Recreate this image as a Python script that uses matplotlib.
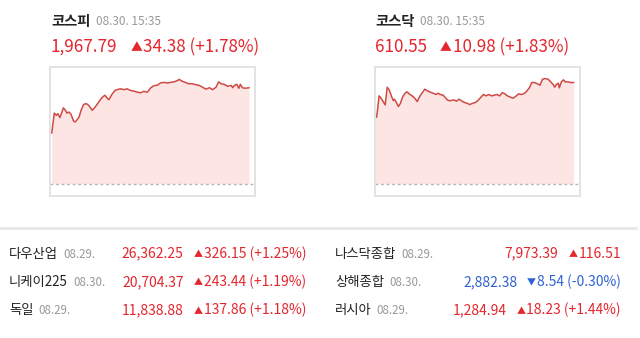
import matplotlib
matplotlib.use("Agg")
import matplotlib.pyplot as plt

plt.rcParams['font.family'] = ['Noto Sans CJK KR', 'DejaVu Sans']

# intraday index data (minutes since 09:00)
kospi_min = [0, 5, 9, 12, 16, 19, 23, 27, 30, 34, 38, 43, 46, 50, 54, 58, 63, 68, 73, 80,
             86, 93, 99, 105, 109, 113, 119, 125, 129, 136, 143, 149, 156, 162, 169, 176, 182, 189, 196, 202,
             209, 215, 222, 229, 235, 242, 249, 252, 257, 264, 271, 277, 285, 292, 298, 305, 312, 318, 325, 330,
             335, 341, 348, 355, 358, 361, 366, 370, 373, 377, 383, 390]
kospi_val = [1951.6, 1958.7, 1957.9, 1958.5, 1957.1, 1958.5, 1960.6, 1959.7, 1958.7, 1959.1,
             1958.3, 1955.9, 1955.5, 1956.3, 1957.3, 1959.7, 1961.8, 1962.1, 1961.5, 1959.7,
             1960.9, 1962.7, 1964.2, 1965.1, 1964.2, 1963.5, 1965.4, 1966.8, 1967.1, 1967.4,
             1967.1, 1967.4, 1966.8, 1966.6, 1966.2, 1966.0, 1966.5, 1966.2, 1967.8, 1968.5,
             1968.7, 1969.5, 1969.7, 1969.5, 1969.7, 1969.9, 1970.4, 1970.8, 1970.2, 1969.7,
             1969.2, 1969.2, 1968.9, 1968.6, 1968.0, 1967.3, 1967.8, 1967.1, 1968.0, 1969.9,
             1969.2, 1969.0, 1968.3, 1968.6, 1967.8, 1968.6, 1969.0, 1967.6, 1969.0, 1967.8,
             1967.6, 1967.79]
kospi_prev = 1933.41

kosdaq_min = [0, 3, 5, 8, 12, 16, 20, 24, 28, 32, 36, 38, 42, 46, 50, 54, 59, 63, 67, 73,
              78, 83, 87, 93, 98, 102, 107, 114, 120, 124, 128, 134, 139, 144, 149, 155, 160, 165, 171, 176,
              181, 186, 192, 197, 202, 208, 213, 218, 223, 229, 234, 239, 245, 250, 255, 260, 266, 271, 276, 282,
              287, 292, 297, 303, 308, 313, 319, 324, 329, 334, 340, 345, 350, 353, 356, 360, 362, 366, 370, 374,
              379, 385, 390]
kosdaq_val = [607.04, 606.78, 607.58, 609.10, 608.85, 608.48, 608.12, 610.04, 609.75, 609.10,
              608.59, 608.74, 608.38, 607.94, 608.30, 608.96, 609.39, 609.54, 609.32, 609.10,
              608.85, 608.48, 608.96, 609.46, 609.83, 609.68, 609.54, 609.39, 609.25, 609.39,
              609.25, 609.17, 608.85, 608.59, 608.59, 608.67, 608.52, 608.74, 608.52, 608.38,
              608.30, 608.16, 608.30, 608.38, 608.59, 608.96, 609.25, 609.10, 609.25, 609.10,
              609.17, 609.25, 609.10, 609.46, 609.32, 609.10, 608.96, 608.85, 609.03, 609.32,
              609.25, 609.32, 609.54, 609.97, 610.55, 610.55, 610.41, 610.26, 610.91, 610.98,
              610.91, 610.62, 610.33, 610.04, 610.33, 610.48, 609.97, 610.62, 610.84, 610.62,
              610.62, 610.55, 610.55]
kosdaq_prev = 599.57

# headline numbers
main_names = ['코스피', '코스닥']
main_time = '08.30. 15:35'
main_price = ['1,967.79', '610.55']
main_chg = ['34.38 (+1.78%)', '10.98 (+1.83%)']

# world indices table
left_names = ['다우산업', '니케이225', '독일']
left_dates = ['08.29.', '08.30.', '08.29.']
left_vals = ['26,362.25', '20,704.37', '11,838.88']
left_chg = ['326.15 (+1.25%)', '243.44 (+1.19%)', '137.86 (+1.18%)']
left_up = [True, True, True]

right_names = ['나스닥종합', '상해종합', '러시아']
right_dates = ['08.29.', '08.30.', '08.29.']
right_vals = ['7,973.39', '2,882.38', '1,284.94']
right_chg = ['116.51', '8.54 (-0.30%)', '18.23 (+1.44%)']
right_up = [True, False, True]

RED = '#e4262d'
BLUE = '#2f63d3'
GRAY = '#999999'
DARK = '#222222'
LINE = '#cf4a44'
FILL = '#fde5e4'

W, H = 640, 338
fig = plt.figure(figsize=(6.4, 3.38), dpi=100)
renderer = fig.canvas.get_renderer()


def put(x, y, s, **kw):
    return fig.text(x / W, 1 - y / H, s, va='baseline', **kw)


def x1(t):
    return t.get_window_extent(renderer).x1


def x0(t):
    return t.get_window_extent(renderer).x0


# small charts
charts = [(49.5, kospi_min, kospi_val, kospi_prev, (-4.5, 402), (1929.0, 1975.4)),
          (374.7, kosdaq_min, kosdaq_val, kosdaq_prev, (-0.6, 403), (598.23, 612.29))]
for left, mins, vals, prev, xl, yl in charts:
    ax = fig.add_axes([left / W, 1 - 196 / H, 205.5 / W, 129.5 / H])
    ax.fill_between(mins, vals, prev, color=FILL, lw=0)
    ax.plot(mins, vals, color=LINE, lw=1.1)
    ax.axhline(prev, color='#b5b5b5', lw=1, ls=(0, (2, 2)))
    ax.set_xlim(*xl)
    ax.set_ylim(*yl)
    ax.set_xticks([])
    ax.set_yticks([])
    for s in ax.spines.values():
        s.set_color('#e3e3e3')
        s.set_linewidth(1.4)

# headlines
for i, left in enumerate([51, 375]):
    t = put(left, 26, main_names[i], fontsize=10.3, fontweight='bold', color=DARK)
    put(x1(t) + 6, 25, main_time, fontsize=8.5, color=GRAY)
    t = put(left, 52, main_price[i], fontsize=12.3, color=RED)
    tri = put(x1(t) + 13, 51, '▲', fontsize=8.5, color=RED)
    put(x1(tri) + 1, 52, main_chg[i], fontsize=12.3, color=RED)

# separator
fig.add_artist(plt.Line2D([0, 636 / W], [1 - 227.5 / H] * 2, color='#e8e8e8', lw=2))

# table
baselines = [257.7, 286, 314.3]
cols = [(9, 306, left_names, left_dates, left_vals, left_chg, left_up),
        (335, 621, right_names, right_dates, right_vals, right_chg, right_up)]
for lx, rx, names, dates, vals, chg, up in cols:
    for j, y in enumerate(baselines):
        c = RED if up[j] else BLUE
        t = put(lx, y, names[j], fontsize=9.6, color=DARK)
        put(x1(t) + 5, y, dates[j], fontsize=8.3, color=GRAY)
        t = put(rx, y, chg[j], fontsize=10, color=c, ha='right')
        tri = put(x0(t) - 1, y - 0.5, '▲' if up[j] else '▼', fontsize=6.5, color=c, ha='right')
        put(x0(tri) - 10, y, vals[j], fontsize=10, color=c, ha='right')

fig.savefig('out.png', dpi=100)
